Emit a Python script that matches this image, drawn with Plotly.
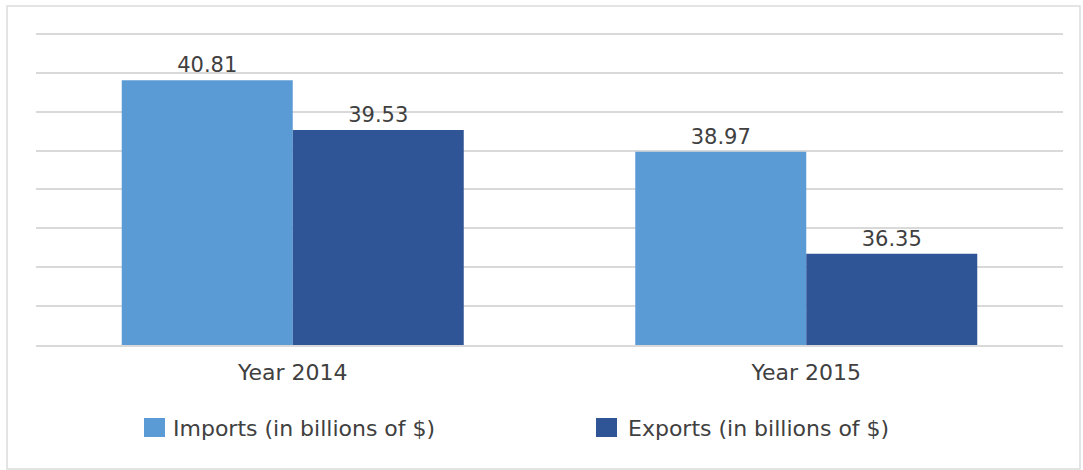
import plotly.graph_objects as go

# Trade balance, two years
years = ["Year 2014", "Year 2015"]
series_names = ["Imports (in billions of $)", "Exports (in billions of $)"]
imports = [40.81, 38.97]
exports = [39.53, 36.35]
colors = ["#5B9BD5", "#2F5597"]

W, H = 1083, 470
M_L, M_R, M_T, M_B = 36, 20, 32, 125
PW, PH = W - M_L - M_R, H - M_T - M_B


def px_x(px):
    return (px - M_L) / PW


def px_y(py):
    return (H - M_B - py) / PH


FONT = "DejaVu Sans"
TXT = "#404040"
GRID = "#d9d9d9"

fig = go.Figure()
for name, vals, col in zip(series_names, [imports, exports], colors):
    fig.add_trace(go.Bar(
        x=years, y=vals, name=name,
        marker=dict(color=col, line=dict(width=0)),
        text=[f"{v:.2f}" for v in vals],
        textposition="outside",
        textfont=dict(family=FONT, size=21, color=TXT),
        cliponaxis=True,
        showlegend=False,
    ))

shapes = [
    # outer frame
    dict(type="rect", xref="paper", yref="paper",
         x0=px_x(7), x1=px_x(1080), y0=px_y(469), y1=px_y(6),
         line=dict(color="#dcdcdc", width=1.5), fillcolor="rgba(0,0,0,0)",
         layer="below"),
]
annotations = []
# legend swatches and labels
for name, col, sx, tx in zip(series_names, colors, [144, 596], [171, 626]):
    shapes.append(dict(type="rect", xref="paper", yref="paper",
                       x0=px_x(sx), x1=px_x(sx + 21), y0=px_y(437), y1=px_y(418),
                       line=dict(width=0), fillcolor=col))
    annotations.append(dict(xref="paper", yref="paper", x=px_x(tx), y=px_y(428),
                            xanchor="left", yanchor="middle", showarrow=False,
                            text=name, font=dict(family=FONT, size=22, color=TXT)))

fig.update_layout(
    width=W, height=H,
    margin=dict(l=M_L, r=M_R, t=M_T, b=M_B, autoexpand=False),
    paper_bgcolor="white", plot_bgcolor="white",
    barmode="group", bargap=0.334, bargroupgap=0,
    font=dict(family=FONT, color=TXT),
    xaxis=dict(showline=True, linecolor=GRID, linewidth=1.5,
               ticks="", showgrid=False, ticklabelstandoff=7,
               tickfont=dict(family=FONT, size=22, color=TXT)),
    yaxis=dict(range=[34, 42.05], dtick=1, tick0=34, showticklabels=False,
               showgrid=True, gridcolor=GRID, gridwidth=1.5,
               zeroline=False, showline=False, ticks=""),
    shapes=shapes, annotations=annotations,
)

fig.write_html("out.html")
